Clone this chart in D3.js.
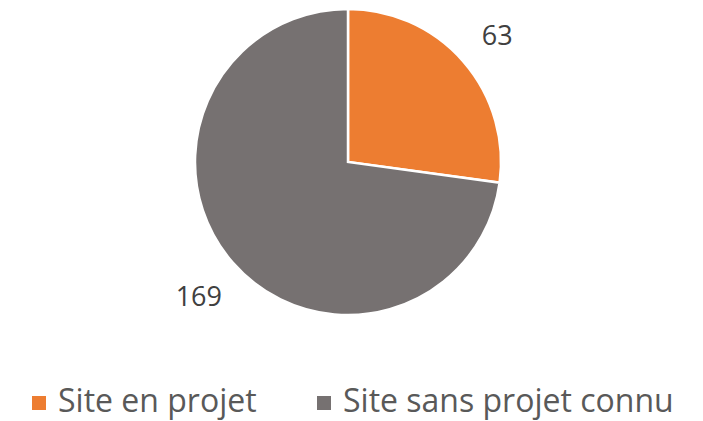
<!DOCTYPE html>
<html>
<head>
<meta charset="utf-8">
<script src="https://cdn.jsdelivr.net/npm/d3@7"></script>
<style>
  body { margin: 0; background: #fff; }
  svg { display: block; }
</style>
</head>
<body>
<div id="chart"></div>
<script>
const categories = ["Site en projet", "Site sans projet connu"];
const values = [63, 169];
const colors = ["#ED7D31", "#767171"];

const width = 703, height = 421;
const cx = 348, cy = 162, radius = 153;
const labelRadius = 198;

const svg = d3.select("#chart").append("svg")
  .attr("width", width)
  .attr("height", height)
  .style("font-family", "'Open Sans', sans-serif");

const data = categories.map((c, i) => ({ name: c, value: values[i] }));

const color = d3.scaleOrdinal()
  .domain(categories)
  .range(colors);

const pie = d3.pie()
  .value(d => d.value)
  .sort(null);

const arc = d3.arc().innerRadius(0).outerRadius(radius);
const labelArc = d3.arc().innerRadius(labelRadius).outerRadius(labelRadius);

const g = svg.append("g").attr("transform", `translate(${cx},${cy})`);

const arcs = pie(data);

g.selectAll("path.slice")
  .data(arcs)
  .enter().append("path")
  .attr("class", "slice")
  .attr("d", arc)
  .attr("fill", d => color(d.data.name))
  .attr("stroke", "#fff")
  .attr("stroke-width", 2.5);

// data labels
g.selectAll("text.lbl")
  .data(arcs)
  .enter().append("text")
  .attr("class", "lbl")
  .attr("transform", d => `translate(${labelArc.centroid(d)})`)
  .attr("text-anchor", "middle")
  .attr("dy", "0.5em")
  .attr("font-size", "27px")
  .attr("fill", "#404040")
  .text(d => d.data.value);

// legend
const legendX = [32, 317];
const legend = svg.append("g").attr("transform", "translate(0,401)");

categories.forEach((c, i) => {
  const item = legend.append("g").attr("transform", `translate(${legendX[i]},0)`);
  item.append("rect")
    .attr("x", 0).attr("y", -5)
    .attr("width", 14).attr("height", 14)
    .attr("fill", color(c));
  item.append("text")
    .attr("x", 26)
    .attr("y", 0)
    .attr("dy", "0.33em")
    .attr("font-size", "32px")
    .attr("fill", "#595959")
    .text(c);
});
</script>
</body>
</html>
